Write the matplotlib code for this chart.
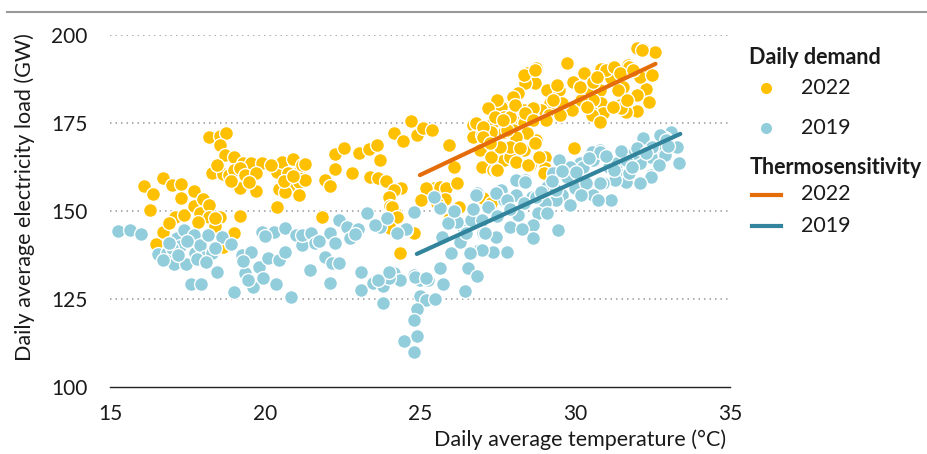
import matplotlib
matplotlib.use("Agg")
import matplotlib.pyplot as plt
from matplotlib.lines import Line2D

plt.rcParams['font.family'] = ['Lato', 'DejaVu Sans']

# daily demand 2022 (temperature in C, load in GW)
temp_2022 = [
    16.1, 16.4, 16.3, 16.7, 16.7, 16.5, 17.0, 17.3, 17.3, 17.1, 17.4, 17.7, 17.7, 17.9, 18.0, 18.2,
    18.2, 18.55, 18.4, 19.2, 19.0, 16.9, 17.85, 18.65, 18.4,
    18.2, 18.55, 18.75, 18.55, 18.7, 19.0, 19.3, 19.55, 19.9, 18.3, 18.65, 18.45, 18.85, 19.0, 19.2,
    19.2, 19.35, 19.7, 19.7, 18.9, 19.5,
    20.4, 20.55, 20.9, 20.75, 20.85, 20.45, 20.65, 20.4, 21.1, 21.2, 21.1, 21.3, 21.3, 21.1, 20.6,
    20.9, 20.2,
    21.95, 22.1, 22.25, 22.55, 22.25, 22.85, 23.05, 23.35, 23.6, 23.7, 23.4, 23.65, 23.9, 24.4, 24.15,
    24.0, 24.05, 24.2, 24.1, 24.8, 24.35, 21.85, 24.15, 24.45, 24.7, 24.9, 25.1, 25.4, 24.1, 24.25,
    24.05, 22.8,
    25.95, 26.1, 25.45, 25.2, 25.65, 25.85, 25.8, 25.05, 25.55, 25.95, 26.25, 26.2, 27.0, 27.35, 26.7,
    26.7, 27.0, 27.35, 27.4, 27.05, 27.3, 26.95, 27.7, 26.8, 27.45,
    32.0, 32.2, 32.6, 32.4, 32.3, 32.4, 32.0, 31.65, 32.1, 31.7, 31.55, 31.4, 31.2, 30.85, 31.15, 29.75,
    28.75, 28.45, 28.7, 28.4, 29.1, 29.5, 29.95, 30.3, 30.5, 30.8, 30.85, 30.6, 30.9, 31.45, 30.15,
    29.9, 29.6, 29.2, 28.9, 29.15, 28.65, 28.35, 28.1, 28.0, 27.6, 27.35, 27.7, 28.0, 28.35, 28.65,
    28.0, 27.7, 27.3, 27.05, 27.6, 27.9, 28.35, 28.7, 28.55, 29.05, 29.05, 27.5, 29.98,
    28.1, 28.5, 28.85, 29.0, 28.75, 28.45, 28.1, 27.8, 27.9, 27.5, 28.15, 28.35, 28.7, 30.55, 30.8,
    31.0, 31.25, 31.75, 32.15, 32.5, 31.5, 30.6, 30.2, 28.65, 27.3, 28.0,
    27.2, 27.42, 27.69, 28.06, 28.39, 28.66, 29.08, 29.3, 27.9, 28.23, 28.71, 27.58, 27.04, 27.26,
    29.41, 30.16, 30.59, 30.7, 31.45, 31.88, 31.99, 31.67, 31.24, 30.38, 29.52,
]
load_2022 = [
    157.2, 154.8, 150.3, 159.3, 144.1, 140.6, 157.4, 157.6, 153.6, 148.4, 148.9, 155.7, 151.4, 149.3, 153.3, 151.7,
    148.4, 148.2, 145.7, 148.6, 143.7, 146.6, 147.0, 139.9, 147.9,
    171.1, 171.3, 172.2, 168.8, 165.9, 165.4, 163.5, 163.5, 163.5, 160.7, 160.4, 163.1, 160.2, 161.6, 162.1,
    156.6, 160.2, 160.7, 155.7, 158.5, 158.3,
    161.2, 164.0, 164.7, 160.7, 156.4, 156.2, 155.5, 151.0, 161.2, 163.1, 158.3, 163.3, 158.8, 154.5, 158.5,
    160.0, 163.2,
    158.8, 157.1, 166.1, 168.0, 161.8, 160.9, 166.6, 167.5, 168.8, 164.5, 159.7, 159.3, 158.5, 156.4, 156.0,
    153.9, 151.4, 149.5, 144.6, 143.8, 138.2, 148.3, 172.2, 170.0, 175.6, 171.6, 173.5, 173.0, 151.2, 148.4,
    145.1, 160.8,
    168.8, 162.6, 156.4, 156.4, 156.9, 156.4, 153.4, 153.1, 152.2, 147.7, 151.2, 157.9, 162.6, 161.6, 174.4,
    171.1, 171.6, 174.9, 165.4, 153.6, 152.2, 167.3, 164.5, 174.9, 161.6,
    196.2, 195.9, 195.3, 189.1, 184.6, 181.1, 178.4, 178.2, 188.2, 191.5, 185.3, 184.4, 191.0, 190.3, 187.7, 192.1,
    190.5, 189.1, 186.3, 186.3, 184.4, 184.4, 186.7, 189.1, 183.4, 184.4, 180.6, 177.8, 177.8, 180.1, 181.5,
    178.7, 180.6, 180.6, 178.7, 177.3, 179.6, 178.7, 183.0, 180.6, 179.6, 175.4, 176.8, 175.9, 174.9, 176.3,
    173.0, 172.5, 172.5, 174.0, 168.3, 165.4, 167.3, 169.7, 163.1, 165.4, 162.1, 161.6, 167.8,
    164.0, 163.1, 165.4, 160.7, 170.2, 172.1, 171.1, 173.0, 176.8, 181.5, 183.4, 188.6, 190.1, 177.3, 175.4,
    190.1, 191.0, 191.0, 195.7, 188.6, 179.2, 181.5, 181.5, 179.2, 165.4, 182.5,
    179.2, 176.8, 175.9, 180.1, 177.8, 175.9, 175.9, 181.5, 168.3, 167.8, 169.2, 168.3, 171.1, 169.2,
    185.8, 185.3, 186.7, 188.2, 189.1, 190.1, 183.0, 181.5, 179.6, 179.6, 177.3,
]

# daily demand 2019
temp_2019 = [
    15.25, 15.65, 16.0, 16.55, 16.85, 17.05, 17.15, 17.25, 17.4, 17.45, 17.6, 17.7, 17.75, 17.95, 17.9,
    18.05, 18.15, 18.3, 18.45, 18.6, 18.9, 19.0, 19.25, 19.35, 19.55, 19.6, 19.8, 19.9, 19.95, 20.1,
    20.3, 20.35, 20.45, 20.65, 20.65, 20.85, 21.0, 21.2,
    16.7, 17.0, 17.5, 17.8, 18.4, 17.2, 16.9, 18.1, 19.45, 20.0, 19.3,
    21.2, 21.5, 21.6, 21.45, 21.95, 22.1, 22.15, 22.25, 22.4, 22.65, 22.75, 22.4, 22.1, 23.0, 23.1,
    23.3, 23.1, 23.5, 23.7, 23.8, 23.8, 23.95, 24.15, 24.35, 24.55, 24.8, 24.8, 25.0, 25.25, 25.0,
    25.2, 25.5, 24.9, 24.8, 24.9, 24.5, 24.8, 25.65, 25.75, 24.55, 24.85,
    22.9, 21.75, 23.55, 24.0, 23.65, 25.2, 24.25, 24.0,
    26.45, 26.0, 26.3, 26.55, 26.85, 26.9, 26.4, 26.65, 26.85, 27.05, 27.35, 25.65, 25.45,
    33.1, 33.3, 33.35, 32.9, 32.65, 32.2, 32.45, 32.9, 32.45, 32.1, 31.75, 31.45, 31.35, 30.8, 30.55,
    31.1, 30.15, 29.85, 29.5, 29.3, 30.0,
    32.45, 32.1, 31.65, 31.3, 30.9, 31.15, 30.6, 30.75, 30.0, 29.8, 29.6, 29.4, 29.1, 29.05, 28.8,
    29.45, 28.65, 28.65, 28.4, 28.6, 28.1, 27.9, 28.15, 27.6, 27.7, 27.45, 27.8, 27.0, 28.35,
    26.5, 26.6, 27.0, 27.45, 28.1, 28.75, 29.1, 29.4, 29.75, 29.85, 30.25, 30.8, 31.35, 31.75, 31.9,
    32.5, 32.75, 32.95, 30.05, 30.6, 30.8, 31.25, 31.65, 27.1, 27.8, 28.4, 26.8, 26.2,
    26.7, 27.2, 27.5, 27.9, 28.3, 28.9, 29.25, 29.6, 30.35, 30.45, 31.0, 31.5, 32.0, 32.3, 32.7,
    33.0, 31.85, 30.2, 25.9, 26.1, 25.7,
]
load_2019 = [
    144.3, 144.6, 143.4, 137.8, 138.2, 134.9, 142.2, 140.1, 144.6, 134.9, 129.3, 143.2, 138.1, 129.3, 140.3,
    137.0, 143.2, 138.0, 132.8, 142.7, 140.6, 127.1, 137.5, 132.5, 138.4, 128.5, 134.2, 144.1, 130.9, 136.6,
    144.1, 129.2, 136.1, 145.1, 138.4, 125.7, 143.2, 140.3,
    136.0, 139.5, 141.5, 136.5, 139.5, 137.5, 141.0, 135.5, 130.3, 143.0, 135.8,
    143.2, 143.7, 140.8, 133.2, 137.0, 143.7, 135.1, 140.8, 147.4, 145.5, 142.2, 135.1, 129.5, 144.8, 132.8,
    149.3, 127.6, 129.5, 145.4, 128.7, 124.0, 147.9, 132.5, 130.4, 144.6, 149.8, 131.8, 130.4, 130.4, 125.9,
    124.7, 124.9, 122.1, 119.0, 114.5, 113.1, 109.8, 133.7, 129.3, 144.8, 131.2,
    143.5, 141.5, 146.0, 131.0, 130.5, 131.0, 143.7, 132.8,
    127.4, 138.2, 141.3, 133.7, 131.4, 138.9, 145.5, 147.4, 155.0, 143.7, 138.4, 150.8, 154.1,
    172.5, 168.3, 163.6, 170.6, 168.3, 170.6, 165.4, 165.9, 160.2, 163.6, 165.4, 164.0, 161.2, 167.3, 166.9,
    162.6, 163.6, 162.6, 164.5, 160.7, 160.7,
    159.8, 158.0, 158.3, 158.8, 157.9, 153.1, 154.5, 153.1, 156.4, 151.7, 154.5, 153.1, 156.9, 152.2, 149.3,
    144.6, 146.0, 142.2, 158.8, 154.1, 154.5, 145.5, 148.9, 156.0, 153.1, 142.7, 138.4, 138.9, 152.2,
    143.7, 138.0, 147.4, 155.0, 158.8, 154.1, 149.3, 156.0, 159.8, 151.7, 162.6, 157.9, 163.6, 160.7, 166.4,
    168.3, 171.6, 170.2, 161.2, 164.5, 166.9, 161.6, 164.5, 143.7, 153.1, 158.3, 154.5, 147.0,
    150.5, 151.0, 148.5, 150.5, 145.0, 155.5, 158.5, 161.5, 158.0, 165.0, 165.5, 167.0, 168.0, 166.5, 163.0,
    168.5, 162.5, 154.5, 146.5, 150.0, 142.5,
]

# thermosensitivity fits (end points)
fit_temp_2022 = [25.0, 32.6]
fit_load_2022 = [160.2, 191.8]
fit_temp_2019 = [24.9, 33.4]
fit_load_2019 = [137.8, 171.9]

yellow = '#FFC000'
light_blue = '#92CDDC'
orange = '#E46C0A'
teal = '#31849B'
text_col = '#1a1a1a'

fig = plt.figure(figsize=(9.28, 4.54), dpi=100)
ax = fig.add_axes([0.1185, 0.1476, 0.668, 0.7753])

ax.scatter(temp_2022, load_2022, s=100, color=yellow, edgecolors='white', linewidths=1.0, zorder=3)
ax.scatter(temp_2019, load_2019, s=100, color=light_blue, edgecolors='white', linewidths=1.0, zorder=3)
ax.plot(fit_temp_2022, fit_load_2022, color=orange, lw=3, solid_capstyle='round', zorder=4)
ax.plot(fit_temp_2019, fit_load_2019, color=teal, lw=3, solid_capstyle='round', zorder=4)

ax.set_xlim(15, 35)
ax.set_ylim(100, 200)
ax.set_xticks([15, 20, 25, 30, 35])
ax.set_yticks([100, 125, 150, 175, 200])
for v in [125, 150, 175, 200]:
    ax.axhline(v, color='#999999', lw=1.1, linestyle=(0, (1, 2.6)), zorder=1)
for s in ['top', 'right', 'left']:
    ax.spines[s].set_visible(False)
ax.spines['bottom'].set_color('#222222')
ax.spines['bottom'].set_linewidth(1)
ax.tick_params(axis='both', length=0, labelsize=15, colors=text_col)
ax.tick_params(axis='x', pad=12)
ax.tick_params(axis='y', pad=16)

fig.text(0.027, 0.566, 'Daily average electricity load (GW)', rotation=90,
         ha='center', va='center', fontsize=15.5, color=text_col)
fig.text(0.783, 0.031, 'Daily average temperature (°C)', ha='right', va='center',
         fontsize=15.5, color=text_col)

# top rule
fig.add_artist(Line2D([0.008, 1.0], [0.974, 0.974], color='#999999', lw=1.5))

# legend drawn by hand
def fx(px):
    return px / 928

def fy(py):
    return 1 - py / 454

fig.text(fx(749), fy(57), 'Daily demand', fontsize=15.5, fontweight='bold', va='center', color=text_col)
fig.add_artist(Line2D([fx(766.5)], [fy(88)], marker='o', ms=9, color=yellow, mec='white', lw=0))
fig.text(fx(801), fy(88), '2022', fontsize=15.5, va='center', color=text_col)
fig.add_artist(Line2D([fx(766.5)], [fy(128)], marker='o', ms=9, color=light_blue, mec='white', lw=0))
fig.text(fx(801), fy(128), '2019', fontsize=15.5, va='center', color=text_col)
fig.text(fx(750), fy(167), 'Thermosensitivity', fontsize=15.5, fontweight='bold', va='center', color=text_col)
fig.add_artist(Line2D([fx(752), fx(781)], [fy(194.5), fy(194.5)], color=orange, lw=3))
fig.text(fx(801), fy(194.5), '2022', fontsize=15.5, va='center', color=text_col)
fig.add_artist(Line2D([fx(752), fx(781)], [fy(226), fy(226)], color=teal, lw=3))
fig.text(fx(801), fy(226), '2019', fontsize=15.5, va='center', color=text_col)

fig.savefig('out.png', dpi=100)
